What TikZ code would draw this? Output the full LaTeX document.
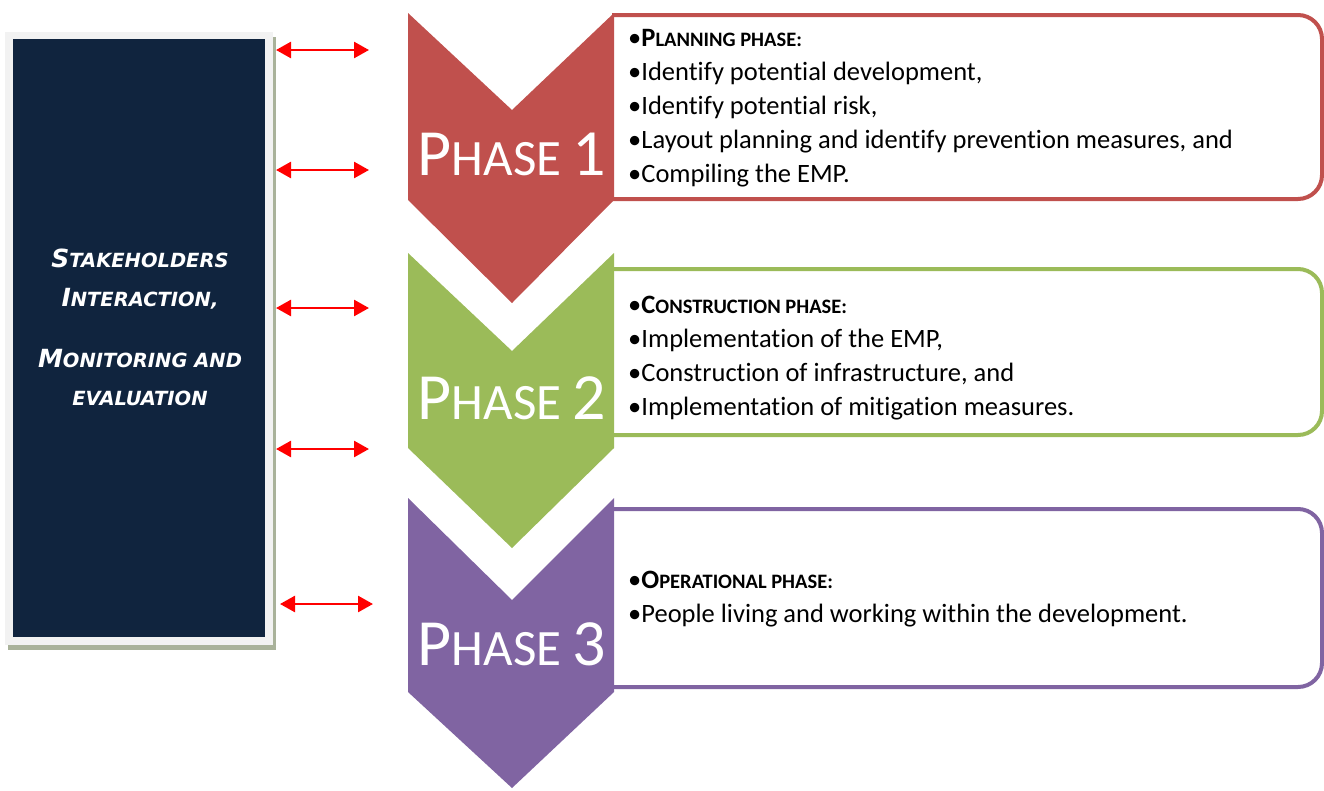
\documentclass[tikz,border=0pt]{standalone}
\usepackage{fontspec}
\setmainfont{Carlito}[Ligatures={NoCommon}]
\newfontfamily\verd{DejaVu Sans}
\usetikzlibrary{arrows.meta}
\definecolor{pred}{HTML}{C0504D}
\definecolor{pgreen}{HTML}{9BBB59}
\definecolor{ppurple}{HTML}{8064A2}
\definecolor{navy}{HTML}{10243E}
\definecolor{frame}{HTML}{F2F2F2}
\definecolor{shadowc}{HTML}{A9B29A}
\newcommand\phaselbl[1]{{\fontsize{66}{66}\selectfont P}{\fontsize{51}{51}\selectfont HASE }{\fontsize{66}{66}\selectfont #1}}
\newcommand\headsc[2]{\textbf{#1{\fontsize{20.5}{20.5}\selectfont #2}}}
\newcommand\lsc[2]{{\fontsize{25}{25}\selectfont #1}{\fontsize{19.5}{19.5}\selectfont #2}}
\begin{document}
\begin{tikzpicture}[x=1pt,y=-1pt,
  phasetxt/.style={text=white,inner sep=0pt,anchor=base},
  bul/.style={anchor=base west,inner sep=0pt,font=\fontsize{26.5}{26.5}\selectfont},
  ltxt/.style={anchor=base,inner sep=0pt,text=white,font=\verd\bfseries\itshape},
  dbl/.style={red,line width=2.6pt,{Triangle[length=15pt,width=16pt]}-{Triangle[length=15pt,width=16pt]}},
  boxline/.style={line width=4pt,rounded corners=24pt}]
\useasboundingbox (0,0) rectangle (1324,790);
% left box
\fill[shadowc] (8,37) rectangle (276,650);
\fill[frame] (5,32) rectangle (273,645);
\fill[navy] (13,39) rectangle (265,637);
\node[ltxt] (l1) at (140,267) {\lsc{S}{TAKEHOLDERS}};
\node[ltxt] (l2) at (140,306) {\lsc{I}{NTERACTION,}};
\node[ltxt] (l3) at (140,367) {\lsc{M}{ONITORING AND}};
\node[ltxt] (l4) at (140,405) {\lsc{}{EVALUATION}};
% arrows
\foreach \i/\y/\xa in {1/50/276,2/170/276,3/308/276,4/449/276,5/604/280}{
  \coordinate (a\i) at (\xa,\y);
  \coordinate (b\i) at (\xa+93,\y);
  \draw[dbl] (a\i) -- (b\i);
}
% text boxes
\draw[boxline,pred] (612,15) -- (1322,15) -- (1322,199) -- (612,199);
\draw[boxline,pgreen] (612,269) -- (1322,269) -- (1322,435) -- (612,435);
\draw[boxline,ppurple] (612,509) -- (1322,509) -- (1322,687) -- (612,687);
% chevrons
\fill[pred] (408,13) -- (512,110) -- (614,13) -- (614,200) -- (512,303) -- (408,200) -- cycle;
\fill[pgreen] (408,253) -- (512,351) -- (614,253) -- (614,448) -- (512,548) -- (408,448) -- cycle;
\fill[ppurple] (408,498) -- (512,600) -- (614,498) -- (614,692) -- (512,788) -- (408,692) -- cycle;
\node[phasetxt] (p1) at (512,175) {\phaselbl{1}};
\node[phasetxt] (p2) at (512,419) {\phaselbl{2}};
\node[phasetxt] (p3) at (512,665) {\phaselbl{3}};
% phase 1 text
\node[bul] (t11) at (628,46) {•\headsc{P}{LANNING PHASE:}};
\node[bul] (t12) at (628,80) {•Identify potential development,};
\node[bul] (t13) at (628,114) {•Identify potential risk,};
\node[bul] (t14) at (628,148) {•Layout planning and identify prevention measures, and};
\node[bul] (t15) at (628,182) {•Compiling the EMP.};
% phase 2 text
\node[bul] (t21) at (628,313) {•\headsc{C}{ONSTRUCTION PHASE:}};
\node[bul] (t22) at (628,347) {•Implementation of the EMP,};
\node[bul] (t23) at (628,381) {•Construction of infrastructure, and};
\node[bul] (t24) at (628,415) {•Implementation of mitigation measures.};
% phase 3 text
\node[bul] (t31) at (628,588) {•\headsc{O}{PERATIONAL PHASE:}};
\node[bul] (t32) at (628,622) {•People living and working within the development.};
\end{tikzpicture}
\end{document}
